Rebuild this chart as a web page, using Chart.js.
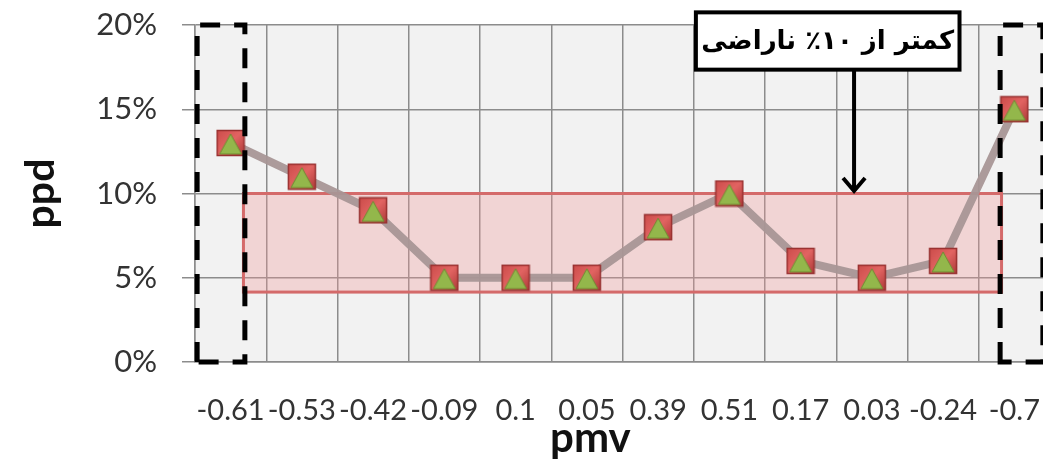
<!DOCTYPE html>
<html>
<head>
<meta charset="utf-8">
<script src="https://cdn.jsdelivr.net/npm/chart.js@4.4.0/dist/chart.umd.min.js"></script>
<style>
  html, body { margin: 0; padding: 0; background: #fff; overflow: hidden; }
  canvas { display: block; }
</style>
</head>
<body>
<canvas id="chart" width="1072" height="460"></canvas>
<script>
const pmvLabels = ["-0.61", "-0.53", "-0.42", "-0.09", "0.1", "0.05", "0.39", "0.51", "0.17", "0.03", "-0.24", "-0.7"];
const ppdValues = [13, 11, 9, 5, 5, 5, 8, 10, 6, 5, 6, 15];
const noteText = "کمتر از ۱۰٪ ناراضی";
const xTitle = "pmv";
const yTitle = "ppd";

// red square + green triangle, like the excel markers
function makeMarker() {
  const c = document.createElement("canvas");
  c.width = 30;
  c.height = 28;
  const g = c.getContext("2d");
  const grad = g.createLinearGradient(0, 0, 30, 28);
  grad.addColorStop(0, "#c94a48");
  grad.addColorStop(0.5, "#e26462");
  grad.addColorStop(1, "#a83634");
  g.fillStyle = grad;
  g.fillRect(1, 1, 28, 26);
  g.strokeStyle = "#983130";
  g.lineWidth = 1.5;
  g.strokeRect(1.5, 1.5, 27, 25);
  g.beginPath();
  g.moveTo(15, 5);
  g.lineTo(26, 25);
  g.lineTo(4, 25);
  g.closePath();
  g.fillStyle = "#93b74b";
  g.fill();
  g.strokeStyle = "#6f8c32";
  g.lineWidth = 1;
  g.stroke();
  return c;
}

const decor = {
  id: "decor",
  beforeDraw(chart) {
    const { ctx, chartArea: a } = chart;
    ctx.save();
    ctx.fillStyle = "#f2f2f2";
    ctx.fillRect(a.left, a.top, a.right - a.left, a.bottom - a.top);
    ctx.restore();
  },
  beforeDatasetsDraw(chart) {
    const { ctx } = chart;
    const x = chart.scales.x, y = chart.scales.y;
    // pink band under the line
    const l = x.getPixelForValue(0.18), r = x.getPixelForValue(10.82);
    const t = y.getPixelForValue(10), b = y.getPixelForValue(4.15);
    ctx.save();
    ctx.fillStyle = "rgba(240,150,150,0.32)";
    ctx.fillRect(l, t, r - l, b - t);
    ctx.strokeStyle = "#d46a6a";
    ctx.lineWidth = 3;
    ctx.strokeRect(l, t, r - l, b - t);
    ctx.restore();
  },
  afterDatasetsDraw(chart) {
    const { ctx } = chart;
    const x = chart.scales.x, y = chart.scales.y;

    // dashed boxes at both ends
    ctx.save();
    ctx.strokeStyle = "#000";
    ctx.lineWidth = 5;
    ctx.setLineDash([20, 14]);
    [[-0.47, 0.2], [10.8, 11.4]].forEach(([i0, i1]) => {
      const l = x.getPixelForValue(i0), r = x.getPixelForValue(i1);
      const t = y.getPixelForValue(20), b = y.getPixelForValue(0);
      ctx.beginPath();
      ctx.moveTo(l, b);
      ctx.lineTo(l, t);
      ctx.lineTo(r, t);
      ctx.lineTo(r, b);
      ctx.closePath();
      ctx.stroke();
    });
    ctx.restore();

    // note box with arrow
    const bl = x.getPixelForValue(6.53), br = x.getPixelForValue(10.23);
    const bt = y.getPixelForValue(20.75), bb = y.getPixelForValue(17.35);
    const ax = x.getPixelForValue(8.75), tip = y.getPixelForValue(10.15);
    ctx.save();
    ctx.fillStyle = "#fff";
    ctx.fillRect(bl, bt, br - bl, bb - bt);
    ctx.strokeStyle = "#000";
    ctx.lineWidth = 4;
    ctx.strokeRect(bl, bt, br - bl, bb - bt);
    ctx.beginPath();
    ctx.moveTo(ax, bb);
    ctx.lineTo(ax, tip);
    ctx.moveTo(ax - 11, tip - 13);
    ctx.lineTo(ax, tip);
    ctx.lineTo(ax + 11, tip - 13);
    ctx.stroke();
    ctx.fillStyle = "#000";
    ctx.font = "bold 26px 'DejaVu Sans'";
    ctx.textAlign = "center";
    ctx.textBaseline = "middle";
    ctx.direction = "rtl";
    ctx.fillText(noteText, (bl + br) / 2, (bt + bb) / 2 + 1);
    ctx.restore();

    // x title sits a little left of the plot centre in the original
    ctx.save();
    ctx.fillStyle = "#111";
    ctx.font = "bold 42px Lato";
    ctx.textAlign = "center";
    ctx.textBaseline = "alphabetic";
    ctx.fillText(xTitle, x.getPixelForValue(5.05), 452);
    ctx.restore();
  },
};

const gridColor = "#8c8c8c";

new Chart(document.getElementById("chart"), {
  type: "line",
  data: {
    labels: pmvLabels,
    datasets: [
      {
        label: yTitle,
        data: ppdValues,
        borderColor: "rgba(168,150,150,0.95)",
        borderWidth: 8,
        tension: 0,
        pointStyle: makeMarker(),
        pointRadius: 14,
      },
    ],
  },
  options: {
    responsive: false,
    animation: false,
    layout: { padding: { top: 25, right: 14, left: 0, bottom: 0 } },
    plugins: {
      legend: { display: false },
      tooltip: { enabled: false },
    },
    scales: {
      x: {
        offset: true,
        grid: {
          offset: true,
          color: gridColor,
          lineWidth: 1.5,
          tickLength: 31,
          tickColor: "rgba(0,0,0,0)",
        },
        border: { color: gridColor, width: 1.5 },
        ticks: {
          autoSkip: false,
          maxRotation: 0,
          padding: 0,
          color: "#333",
          font: { family: "Lato", size: 29 },
        },
        afterFit: (s) => {
          s.height = 98;
          s.paddingLeft = 0;
          s.paddingRight = 0;
        },
      },
      y: {
        min: 0,
        max: 20,
        grid: { color: gridColor, lineWidth: 1.5, tickLength: 13 },
        border: { color: gridColor, width: 1.5 },
        ticks: {
          stepSize: 5,
          padding: 25,
          color: "#333",
          font: { family: "Lato", size: 31 },
          callback: (v) => v + "%",
        },
        title: {
          display: true,
          text: yTitle,
          color: "#111",
          padding: { top: 16, bottom: 0 },
          font: { family: "Lato", size: 41, weight: "bold" },
        },
        afterFit: (s) => {
          s.width = 195;
          s.paddingTop = 0;
          s.paddingBottom = 0;
        },
      },
    },
  },
  plugins: [decor],
});
</script>
</body>
</html>
